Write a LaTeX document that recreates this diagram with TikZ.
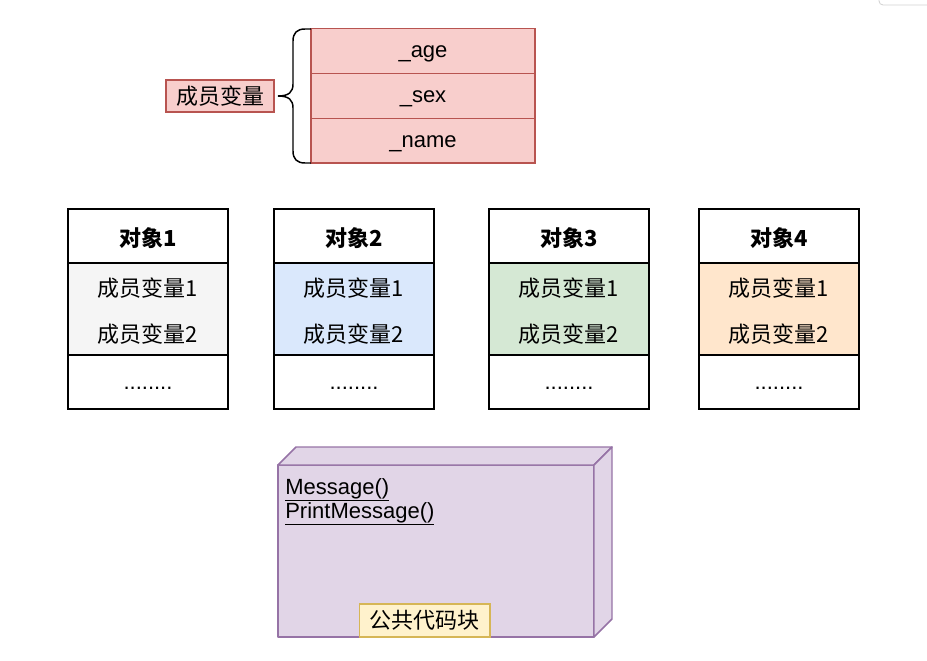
\documentclass[tikz,border=0pt]{standalone}
\usepackage{fontspec}
\setmainfont{Liberation Sans}
\newfontfamily\cjk{Noto Sans CJK SC}
\usetikzlibrary{positioning}
\definecolor{varpink}{HTML}{F8CECC}
\definecolor{varred}{HTML}{B85450}
\definecolor{objgray}{HTML}{F5F5F5}
\definecolor{objblue}{HTML}{DAE8FC}
\definecolor{objgreen}{HTML}{D5E8D4}
\definecolor{objorange}{HTML}{FFE6CC}
\definecolor{cubepurple}{HTML}{E1D5E7}
\definecolor{cubeedge}{HTML}{9673A6}
\definecolor{tagyellow}{HTML}{FFF2CC}
\definecolor{tagbrown}{HTML}{D6B656}
\begin{document}
\begin{tikzpicture}[
    x=0.75pt, y=-0.75pt,
    font=\fontsize{16.5}{19.5}\selectfont,
    cell/.style={draw=varred, fill=varpink, line width=1pt, minimum width=168pt, minimum height=33.6pt, inner sep=0pt, outer sep=0pt, text height=11.5pt, text depth=1pt},
    head/.style={draw=black, fill=white, line width=1.1pt, minimum width=120pt, minimum height=40.5pt, inner sep=0pt, outer sep=0pt, text height=15.5pt, text depth=0pt, font=\cjk\bfseries\fontsize{16.5}{19.5}\selectfont},
    body/.style={draw=black, line width=1.1pt, minimum width=120pt, minimum height=69pt, inner sep=0pt, outer sep=0pt, align=center, font=\cjk\fontsize{16.5}{34.9}\selectfont},
    tail/.style={head, text height=11.5pt, text depth=1pt, font=\fontsize{16.5}{19.5}\selectfont},
    cube/.style={draw=cubeedge, fill=cubepurple, line width=1.1pt, line join=round},
]
    \useasboundingbox (0,0) rectangle (927,660);
    \draw[black!18, line width=0.6pt, rounded corners=3pt] (879,0) -- (879,5) -- (927,5);

    % Member variables
    \node[cell] (age) at (423,51) {\_age};
    \node[cell, below=0pt of age] (sex) {\_sex};
    \node[cell, below=0pt of sex] (name) {\_name};
    \node[draw=varred, fill=varpink, line width=1pt, minimum width=81pt, minimum height=24pt, inner sep=0pt, font=\cjk\fontsize{16.5}{19.5}\selectfont] (vars) at (220,96) {成员变量};
    \draw[line width=1.1pt] (311,29) -- (305,29) .. controls (297,29) and (293,33) .. (293,41) -- (293,84) .. controls (293,92) and (289,96) .. (278,96);
    \draw[line width=1.1pt] (311,163) -- (305,163) .. controls (297,163) and (293,159) .. (293,151) -- (293,108) .. controls (293,100) and (289,96) .. (278,96);

    % Objects
    \node[head] (head1) at (148,236) {对象1};
    \node[body, fill=objgray, below=0pt of head1] (body1) {\rule{0pt}{17pt}成员变量1\\成员变量2};
    \node[tail, below=0pt of body1] (tail1) {........};

    \node[head] (head2) at (354,236) {对象2};
    \node[body, fill=objblue, below=0pt of head2] (body2) {\rule{0pt}{17pt}成员变量1\\成员变量2};
    \node[tail, below=0pt of body2] (tail2) {........};

    \node[head] (head3) at (569,236) {对象3};
    \node[body, fill=objgreen, below=0pt of head3] (body3) {\rule{0pt}{17pt}成员变量1\\成员变量2};
    \node[tail, below=0pt of body3] (tail3) {........};

    \node[head] (head4) at (779,236) {对象4};
    \node[body, fill=objorange, below=0pt of head4] (body4) {\rule{0pt}{17pt}成员变量1\\成员变量2};
    \node[tail, below=0pt of body4] (tail4) {........};

    % Shared code block
    \node[cube, minimum width=237pt, minimum height=129pt, inner sep=0pt, outer sep=0pt] (code) at (436,551) {};
    \draw[cube] (code.north west) -- ++(18,-18) -- ++(316,0) -- (code.north east) -- cycle;
    \draw[cube] (code.north east) -- ++(18,-18) -- ++(0,172) -- (code.south east) -- cycle;
    \node[anchor=north west, align=left, inner sep=0pt, font=\fontsize{16.5}{18}\selectfont] (methods) at ([shift={(7,13)}]code.north west) {\underline{Message()}\\\underline{PrintMessage()}};
    \node[draw=tagbrown, fill=tagyellow, line width=1pt, minimum width=98pt, minimum height=24.75pt, inner sep=0pt, font=\cjk\fontsize{16.5}{19.5}\selectfont] (tag) at (424.5,620.5) {公共代码块};
\end{tikzpicture}
\end{document}
